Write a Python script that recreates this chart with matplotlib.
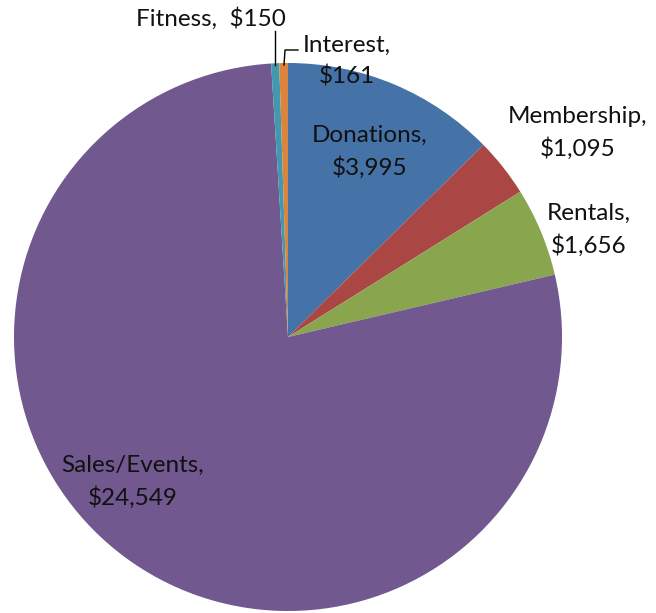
import matplotlib

matplotlib.use("Agg")
import matplotlib.pyplot as plt

categories = ["Donations", "Membership", "Rentals", "Sales/Events", "Fitness", "Interest"]
amounts = [3995, 1095, 1656, 24549, 150, 161]
colors = ["#4572A7", "#AA4643", "#89A54E", "#71588F", "#4198AF", "#DB843D"]

# label anchor (pixel) positions, converted to pie units below
CX, CY, R = 288, 337, 274
label_px = {
    "Donations": (370, 152),
    "Membership": (578, 133),
    "Rentals": (589, 230),
    "Sales/Events": (133, 482),
    "Interest": (347, 61),
}


def to_data(px, py):
    return (px - CX) / R, (CY - py) / R


plt.rcParams["font.family"] = ["Lato", "DejaVu Sans"]
FS = 17.5

fig = plt.figure(figsize=(6.56, 6.13), dpi=100)
ax = fig.add_axes([(CX - R) / 656, (613 - CY - R) / 613, 2 * R / 656, 2 * R / 613])

wedges, _ = ax.pie(
    amounts,
    colors=colors,
    startangle=90,
    counterclock=False,
    radius=1.0,
    wedgeprops={"linewidth": 0},
)
ax.set_xlim(-1, 1)
ax.set_ylim(-1, 1)
ax.axis("off")

for name, value in zip(categories, amounts):
    if name not in label_px:
        continue
    x, y = to_data(*label_px[name])
    ax.text(x, y, f"{name},\n${value:,}", ha="center", va="center",
            fontsize=FS, linespacing=1.55, color="#111111")

# Fitness label sits on a single line with a leader
fx, fy = to_data(211, 19)
ax.text(fx, fy, f"Fitness,  ${amounts[4]:,}", ha="center", va="center",
        fontsize=FS, color="#111111")
ax.plot(*zip(to_data(275, 31), to_data(275, 65)), color="black", lw=1, clip_on=False)
ax.plot(*zip(to_data(298, 50), to_data(285, 50), to_data(284, 65)),
        color="black", lw=1, clip_on=False)

fig.savefig("out.png", dpi=100)
plt.close(fig)
